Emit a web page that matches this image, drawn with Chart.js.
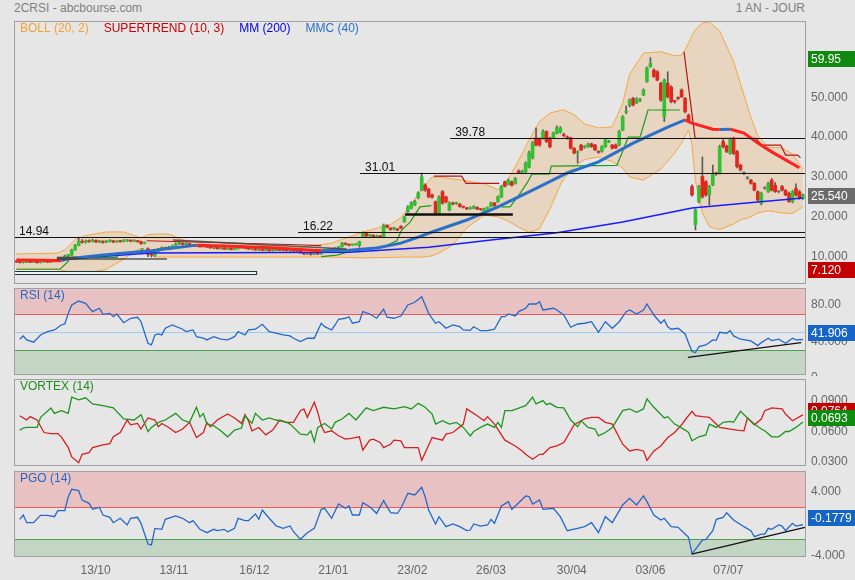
<!DOCTYPE html>
<html>
<head>
<meta charset="utf-8">
<title>2CRSI - abcbourse.com</title>
<script src="https://cdn.jsdelivr.net/npm/chart.js@4.4.0/dist/chart.umd.min.js"></script>
<style>
  body { margin: 0; background: #e6e6e6; font-family: "Liberation Sans", Arial, sans-serif; }
  #wrap { position: relative; width: 855px; height: 580px; overflow: hidden; background: #e6e6e6; }
  canvas { position: absolute; left: 0; }
  .head { position: absolute; top: 1px; font-size: 12px; line-height: 14px; color: #808080; }
</style>
</head>
<body>
<div id="wrap">
  <div class="head" style="left:14px">2CRSI - abcbourse.com</div>
  <div class="head" style="right:50px">1 AN - JOUR</div>
  <canvas id="price" width="855" height="286" style="top:0"></canvas>
  <canvas id="rsi" width="855" height="90" style="top:286px"></canvas>
  <canvas id="vortex" width="855" height="90" style="top:377px"></canvas>
  <canvas id="pgo" width="855" height="111" style="top:469px"></canvas>
</div>
<script>
// daily candles (bar 0 = first session shown)
const opens = [
  8.9, 8.7, 8.5, 8.6, 8.8, 8.6, 8.7, 8.5, 8.7, 8.8,
  8.6, 8.8, 8.9, 9.3, 9.6, 10.2, 10.4, 11.7, 12.8, 13.8,
  13.6, 14.0, 13.8, 14.1, 13.7, 13.9, 13.6, 13.9, 14.0, 13.7,
  13.9, 13.8, 14.0, 14.1, 13.9, 14.0, 13.8, 13.3, 12.0, 10.6,
  10.3, 11.3, 11.9, 12.3, 12.1, 12.4, 12.7, 13.2, 13.4, 13.1,
  13.3, 12.9, 12.6, 12.7, 12.5, 12.6, 12.4, 12.2, 12.3, 12.0,
  12.2, 11.9, 12.1, 11.8, 12.0, 12.2, 12.4, 12.1, 11.9, 12.0,
  11.7, 11.8, 11.6, 11.7, 11.5, 11.6, 11.8, 11.6, 11.7, 11.5,
  11.6, 11.4, 11.5, 11.0, 10.7, 10.8, 10.6, 10.9, 10.7, 11.2,
  11.7, 12.0, 11.8, 12.1, 12.5, 13.4, 13.1, 12.9, 13.0, 12.8,
  14.9, 15.9, 15.2, 15.4, 14.9, 15.2, 15.0, 17.9, 17.2, 16.8,
  17.0, 17.6, 18.8, 21.3, 22.2, 23.0, 24.7, 26.7, 28.0, 27.0,
  25.5, 23.8, 20.9, 26.3, 25.0, 21.7, 23.5, 23.4, 23.2, 22.6,
  22.2, 22.0, 22.1, 22.4, 22.0, 21.1, 22.0, 22.6, 23.5, 23.8,
  25.0, 28.8, 28.1, 28.8, 28.3, 31.5, 31.0, 31.3, 32.5, 34.8,
  39.8, 39.5, 39.8, 41.4, 39.8, 39.8, 41.0, 41.2, 40.6, 40.0,
  39.8, 37.2, 36.1, 38.0, 37.4, 37.6, 38.3, 38.0, 36.4, 36.4,
  37.6, 38.8, 38.0, 38.0, 38.0, 41.8, 46.2, 48.0, 49.7, 48.6,
  49.1, 50.6, 53.9, 57.7, 56.8, 56.4, 53.5, 45.1, 53.5, 52.6,
  49.0, 49.8, 51.8, 49.7, 45.5, 27.6, 18.0, 23.8, 30.1, 28.8,
  25.5, 28.0, 30.9, 30.9, 38.9, 37.8, 35.9, 39.7, 36.4, 33.0,
  30.9, 29.7, 29.2, 28.4, 26.3, 23.4, 27.2, 26.3, 29.2, 27.9,
  26.3, 27.6, 26.6, 25.9, 23.8, 27.1, 26.3, 24.6
];
const closes = [
  8.7, 8.5, 8.6, 8.8, 8.6, 8.7, 8.5, 8.7, 8.8, 8.6,
  8.8, 8.9, 9.3, 9.6, 10.2, 10.4, 11.7, 12.8, 13.8, 13.6,
  14.0, 13.8, 14.1, 13.7, 13.9, 13.6, 13.9, 14.0, 13.7, 13.9,
  13.8, 14.0, 14.1, 13.9, 14.0, 13.8, 13.3, 13.5, 10.6, 10.4,
  11.3, 11.9, 12.3, 12.1, 12.4, 12.7, 13.2, 13.4, 13.1, 13.3,
  12.9, 12.6, 12.7, 12.5, 12.6, 12.4, 12.2, 12.3, 12.0, 12.2,
  11.9, 12.1, 11.8, 12.0, 12.2, 12.4, 12.1, 11.9, 12.0, 11.7,
  11.8, 11.6, 11.7, 11.5, 11.6, 11.8, 11.6, 11.7, 11.5, 11.6,
  11.4, 11.5, 11.0, 10.7, 10.8, 10.6, 10.9, 10.7, 11.2, 11.7,
  12.0, 11.8, 12.1, 12.4, 13.4, 13.1, 12.9, 13.0, 13.1, 13.8,
  16.0, 15.2, 15.4, 14.9, 15.2, 15.0, 17.9, 17.4, 16.8, 17.2,
  16.7, 17.2, 20.0, 22.5, 23.5, 23.8, 26.0, 30.0, 26.7, 25.0,
  24.9, 20.9, 25.0, 23.4, 23.8, 23.5, 23.2, 23.5, 22.6, 22.4,
  22.0, 22.3, 22.6, 22.0, 21.8, 22.0, 22.4, 23.5, 22.8, 25.0,
  27.6, 27.7, 29.2, 27.9, 29.6, 31.1, 31.4, 33.5, 36.0, 38.5,
  38.0, 38.0, 41.4, 38.9, 37.6, 41.0, 42.3, 42.3, 40.4, 39.8,
  37.2, 36.0, 36.3, 36.8, 37.6, 38.3, 37.6, 36.8, 36.2, 37.6,
  39.3, 39.0, 37.2, 37.3, 41.4, 45.1, 46.5, 49.3, 48.0, 49.6,
  49.4, 51.8, 57.3, 58.5, 55.2, 54.3, 49.3, 54.3, 50.1, 48.9,
  48.9, 49.7, 50.1, 46.4, 43.9, 25.5, 21.7, 27.6, 25.0, 25.5,
  27.6, 30.9, 30.8, 37.6, 37.6, 36.4, 39.3, 35.9, 32.6, 31.8,
  30.9, 29.7, 28.4, 26.7, 24.2, 25.9, 27.2, 28.4, 26.7, 26.3,
  26.3, 26.7, 25.5, 23.8, 26.3, 25.5, 24.6, 25.5
];
const highs = [
  9.0, 8.8, 8.8, 8.9, 8.9, 8.9, 8.8, 8.8, 8.9, 8.9,
  9.0, 9.1, 9.4, 9.8, 10.4, 10.6, 11.9, 13.1, 14.9, 14.3,
  14.2, 14.2, 14.4, 14.2, 14.1, 14.0, 14.1, 14.2, 14.1, 14.0,
  14.1, 14.3, 14.3, 14.2, 14.2, 14.1, 13.9, 13.7, 12.2, 11.0,
  11.5, 12.1, 12.5, 12.4, 12.6, 12.9, 13.5, 13.6, 13.5, 13.5,
  13.4, 13.0, 12.9, 12.8, 12.8, 12.7, 12.5, 12.6, 12.4, 12.3,
  12.3, 12.2, 12.2, 12.1, 12.5, 12.8, 12.5, 12.2, 12.1, 12.1,
  12.0, 11.9, 11.9, 11.8, 11.8, 12.0, 11.9, 11.8, 11.8, 11.7,
  11.7, 11.6, 11.5, 11.1, 11.0, 10.9, 11.0, 11.0, 11.3, 11.8,
  12.1, 12.1, 12.3, 12.6, 13.6, 13.5, 13.2, 13.2, 13.3, 13.9,
  16.2, 16.0, 15.6, 15.5, 15.4, 15.3, 18.2, 18.0, 17.3, 17.4,
  17.1, 17.8, 20.2, 22.8, 23.8, 24.2, 26.3, 31.0, 28.3, 27.2,
  25.7, 24.0, 25.3, 26.6, 25.2, 23.8, 23.7, 23.7, 23.3, 22.7,
  22.4, 22.5, 22.8, 22.5, 22.1, 22.2, 22.5, 23.7, 23.6, 25.3,
  27.9, 29.0, 29.5, 29.0, 29.9, 31.8, 31.7, 33.8, 36.5, 38.9,
  42.3, 39.8, 41.8, 41.6, 40.0, 41.3, 42.8, 42.6, 41.0, 40.3,
  40.0, 37.4, 36.6, 38.2, 37.9, 38.5, 38.5, 38.2, 36.6, 37.9,
  39.6, 39.2, 38.2, 38.3, 41.7, 45.4, 47.8, 49.6, 50.0, 49.9,
  49.7, 52.1, 57.6, 59.95, 57.1, 56.7, 53.8, 54.6, 56.4, 52.9,
  49.3, 50.1, 52.1, 50.0, 45.8, 28.0, 22.0, 27.9, 35.0, 29.1,
  27.9, 33.0, 31.2, 38.0, 39.5, 38.0, 39.6, 40.0, 36.7, 33.2,
  31.3, 30.1, 29.4, 28.6, 26.5, 26.2, 27.5, 28.7, 29.6, 28.6,
  26.6, 27.9, 26.9, 26.2, 26.6, 28.3, 26.6, 25.8
];
const lows = [
  8.5, 8.4, 8.4, 8.5, 8.5, 8.5, 8.4, 8.4, 8.6, 8.5,
  8.5, 8.7, 8.8, 9.2, 9.5, 9.9, 10.3, 11.6, 12.7, 13.4,
  13.4, 13.6, 13.7, 13.5, 13.5, 13.4, 13.5, 13.7, 13.5, 13.6,
  13.6, 13.7, 13.8, 13.7, 13.8, 13.6, 13.1, 13.2, 10.0, 9.9,
  10.1, 11.2, 11.8, 11.9, 12.0, 12.3, 12.6, 13.0, 12.9, 13.0,
  12.8, 12.5, 12.5, 12.3, 12.4, 12.3, 12.1, 12.0, 11.9, 11.9,
  11.8, 11.8, 11.7, 11.7, 11.9, 12.1, 12.0, 11.8, 11.7, 11.6,
  11.6, 11.5, 11.5, 11.4, 11.4, 11.5, 11.5, 11.4, 11.4, 11.3,
  11.3, 11.2, 10.8, 10.5, 10.5, 10.4, 10.5, 10.5, 10.6, 11.1,
  11.6, 11.6, 11.7, 12.0, 12.4, 12.9, 12.7, 12.8, 12.9, 12.4,
  14.8, 15.0, 15.1, 14.8, 14.8, 14.9, 14.9, 17.2, 16.6, 16.7,
  16.5, 17.0, 18.6, 21.1, 22.0, 22.8, 24.5, 26.5, 26.4, 24.8,
  24.7, 20.5, 20.7, 23.2, 23.5, 21.5, 23.0, 23.1, 22.4, 22.2,
  21.8, 21.9, 22.0, 21.8, 21.6, 20.9, 21.9, 22.5, 22.6, 23.6,
  24.8, 27.5, 28.0, 27.7, 28.2, 30.9, 30.8, 31.1, 32.3, 34.5,
  37.8, 37.7, 39.5, 38.6, 37.3, 39.6, 40.8, 41.0, 40.1, 39.5,
  37.0, 35.8, 33.5, 36.6, 37.2, 37.4, 37.4, 36.6, 35.9, 36.2,
  37.4, 38.6, 37.0, 37.1, 37.8, 41.6, 45.9, 47.6, 47.8, 48.4,
  48.9, 50.4, 53.7, 57.5, 55.0, 54.1, 49.0, 43.9, 49.8, 48.6,
  48.5, 49.4, 49.9, 46.1, 43.6, 25.2, 16.7, 23.5, 24.7, 25.2,
  23.0, 27.8, 30.4, 30.7, 37.3, 36.1, 35.7, 35.6, 32.3, 31.5,
  30.6, 29.4, 28.2, 26.5, 24.0, 23.0, 26.9, 26.1, 26.5, 26.1,
  26.0, 26.5, 25.3, 23.6, 23.5, 25.2, 24.4, 24.4
];

// x axis labels and where they sit (bar index)
const dateTicks = [22.9, 45.5, 68.7, 91.5, 114.3, 137, 160.3, 183, 205.5];
const dateLabels = ['13/10', '13/11', '16/12', '21/01', '23/02', '26/03', '30/04', '03/06', '07/07'];

// bollinger (20, 2) read at these bars
const bandIdx = [0, 12, 14, 17, 20, 26, 31, 34, 36, 38,
  40, 44, 49, 56, 65, 73, 81, 91, 100, 108,
  111, 114, 117, 120, 122, 126, 130, 135, 139, 142,
  145, 148, 151, 154, 157, 158, 161, 164, 168, 172,
  175, 177, 181, 186, 190, 192, 194, 195, 196, 198,
  200, 203, 207, 209, 212, 214, 217, 221, 224, 227];
const bandUpper = [10.7, 10.9, 11.7, 14.3, 15.3, 16.2, 16.2, 15.3, 14.7, 15.5,
  15.7, 15.7, 13.9, 13.7, 13.2, 12.7, 12.2, 13.4, 16.2, 18.1,
  19.8, 23.2, 27.0, 30.0, 30.0, 29.5, 29.0, 28.3, 26.8, 29.5,
  34.2, 39.3, 43.9, 46.0, 46.7, 46.8, 45.6, 43.3, 42.3, 42.6,
  48.5, 55.8, 61.1, 61.4, 60.4, 60.6, 63.5, 65.5, 67.0, 68.6,
  68.9, 66.6, 59.0, 53.4, 44.9, 40.3, 37.5, 37.3, 35.8, 32.0];
const bandLower = [6.9, 6.9, 6.4, 6.0, 5.9, 6.8, 9.4, 11.3, 12.1, 11.0,
  9.9, 9.9, 9.9, 9.9, 9.9, 9.9, 9.9, 9.9, 9.7, 9.8,
  9.9, 9.9, 9.9, 10.2, 10.9, 13.0, 17.2, 20.4, 20.0, 18.9,
  17.4, 16.1, 17.0, 22.0, 28.0, 29.5, 32.6, 34.4, 35.0, 33.9,
  32.2, 30.0, 29.2, 32.0, 36.0, 38.5, 41.8, 38.0, 29.0, 21.0,
  17.5, 16.8, 18.2, 19.2, 20.0, 21.0, 21.5, 21.0, 20.8, 22.5];

// [bar, value]
const mm200 = [[15, 9.5], [39, 10.9], [96, 11.1], [119, 12.4], [137, 14.2], [156, 16.0],
  [175, 18.7], [195, 22.2], [214, 23.7], [227, 24.7]];
const mmc40 = [[0, 9.2], [8, 9.1], [13, 9.0], [15, 9.5], [25, 10.4], [39, 11.5], [52, 12.9],
  [60, 12.7], [72, 12.3], [88, 11.5], [96, 11.6], [104, 12.2], [111, 13.4], [116, 14.9],
  [120, 16.2], [130, 19.2], [139, 22.5], [149, 26.7], [159, 31.0], [168, 33.8], [178, 38.5],
  [188, 42.5], [193, 44.3], [195, 43.5], [201, 42.0], [203, 41.9], [206, 42.0], [210, 41.0],
  [214, 38.5], [218, 36.3], [222, 34.3], [226, 32.3]];
const superUp = [
  [[0, 6.85], [12.6, 6.85], [15, 8.8], [15.5, 9.85], [29, 9.85], [29.5, 11.0], [34.8, 11.0], [36.7, 12.1]],
  [[88, 10.0], [92.5, 10.4], [98, 11.7], [106, 12.5], [109.8, 14.0], [111.2, 16.7], [113.6, 18.6],
   [116.5, 22.5], [119.8, 22.8]],
  [[140, 22.5], [142.5, 22.5], [145.4, 25.9], [147.4, 28.5], [148.8, 30.7], [153.8, 30.7],
   [154.4, 32.7], [173.3, 32.9], [174.8, 36.0], [176.6, 40.0], [180, 40.0], [182.3, 46.8], [191.5, 46.8]]
];
const superDown = [
  [[37.6, 14.0], [81, 13.0], [88, 12.8]],
  [[120.5, 30.2], [128.5, 30.2], [129.8, 28.4], [139.4, 28.4]],
  [[192.7, 61.4], [195.9, 39.7], [213.4, 39.7], [215.1, 38.0], [220.6, 38.0], [222, 35.5],
   [225.5, 35.5], [226.3, 34.8]]
];

// drawn price levels and marks
const levels = [14.94, 16.22, 31.01, 39.78];
const levelFrom = [-0.66, 81.3, 99.2, 125.2];
const supportLine = [112.2, 143.3, 20.6];
const baseLine = [11.7, 43.5, 9.42];
const baseStub = [11.7, 17.5, 9.62];
const slopeLine = [45.2, 14.19, 95.4, 11.93];
const baseBox = [-0.66, 69.5, 5.66, 6.34];
const periodHigh = 59.95, periodLow = 7.12, lastPrice = 25.54;

// indicators [bar, value]
const rsi = [[1, 42.2], [2, 45.8], [3, 41.4], [5, 38.9], [7, 46.9], [9, 50.6], [11, 52.4], [13, 57.9],
  [14, 59], [15, 70.7], [16, 79.9], [18, 84.3], [20, 81.8], [22, 72.6], [24, 76.3], [25, 69.6],
  [27, 70.7], [28, 67], [29, 70], [31, 60.4], [33, 65.3], [35, 66.4], [36, 61.5], [38, 37.8],
  [39, 35.9], [40, 46.9], [41, 48], [42, 47], [43, 54.3], [45, 57.9], [48, 53.2], [49, 50.6],
  [51, 52.4], [52, 45], [54, 43.3], [55, 41.4], [57, 45], [59, 42.2], [61, 41.4], [63, 45],
  [64, 50.6], [66, 46.9], [67, 52.4], [69, 53.2], [71, 58.7], [73, 50.6], [75, 48.8], [77, 46.9],
  [79, 45.8], [80, 43.3], [82, 39.6], [84, 43.3], [86, 43.3], [88, 59.8], [89, 56], [91, 52.4],
  [92, 57.9], [93, 64.2], [95, 65.3], [96, 67], [97, 59.8], [99, 61.5], [100, 72.6], [102, 70],
  [104, 65.3], [106, 75.2], [107, 66.4], [109, 65.3], [111, 67.8], [113, 79.9], [115, 82.9],
  [117, 89], [118, 80], [119, 70.7], [121, 59.8], [122, 61.5], [124, 54.3], [126, 57.9], [128, 56],
  [129, 52.4], [131, 52], [132, 56], [134, 51.6], [136, 51.6], [138, 53.2], [140, 67], [141, 67],
  [142, 70], [144, 67.8], [145, 72.6], [147, 76.3], [148, 81], [150, 81], [151, 83.5], [152, 74.4],
  [155, 76.3], [156, 74.4], [158, 68.9], [160, 55.4], [162, 59], [164, 59.8], [166, 61.5],
  [168, 49.9], [170, 61.5], [172, 54.3], [174, 61.5], [176, 72.6], [177, 74.4], [179, 70],
  [181, 74.4], [182, 81], [184, 68.9], [186, 59.8], [187, 63.5], [188, 56], [189, 53.2], [191, 54.3],
  [193, 48], [195, 28.6], [196, 27.5], [197, 34.1], [199, 35.9], [201, 41.4], [202, 41], [203, 49.9],
  [205, 48.8], [206, 51.6], [207, 45.8], [209, 42.2], [212, 40.3], [214, 35.2], [215, 38.5],
  [217, 43.3], [218, 40.7], [220, 42.2], [222, 37.8], [224, 43.3], [225, 41.4], [227, 41.9]];
const rsiTrend = [[193.8, 22.3], [226.5, 38.4]];
const rsiLast = 41.906;

const viPlus = [[1, 0.0614], [2, 0.0634], [3, 0.064], [6, 0.064], [7, 0.0739], [10, 0.0832], [11, 0.0778],
  [13, 0.0805], [15, 0.0778], [16, 0.0937], [18, 0.0911], [20, 0.0931], [22, 0.0871], [25, 0.0854],
  [28, 0.0832], [31, 0.0723], [34, 0.0713], [36, 0.0765], [38, 0.06], [39, 0.064], [41, 0.0689],
  [43, 0.0713], [46, 0.0778], [48, 0.0713], [50, 0.069], [52, 0.0838], [53, 0.0743], [54, 0.0776],
  [55, 0.0673], [57, 0.0656], [59, 0.0607], [61, 0.0548], [63, 0.0614], [65, 0.0634], [66, 0.0755],
  [68, 0.068], [69, 0.0778], [71, 0.0713], [73, 0.0733], [75, 0.0713], [78, 0.069], [79, 0.0673],
  [82, 0.0574], [84, 0.0567], [85, 0.0607], [86, 0.0501], [87, 0.064], [89, 0.0679], [91, 0.0624],
  [92, 0.069], [94, 0.0723], [96, 0.0778], [98, 0.0713], [101, 0.0832], [103, 0.0805], [106, 0.0838],
  [109, 0.0822], [112, 0.0845], [114, 0.0822], [116, 0.0877], [118, 0.0838], [120, 0.0772],
  [121, 0.0673], [123, 0.0706], [125, 0.0673], [127, 0.069], [129, 0.064], [131, 0.0557], [132, 0.06],
  [134, 0.064], [136, 0.0673], [138, 0.064], [139, 0.069], [140, 0.064], [141, 0.0805], [143, 0.0805],
  [147, 0.0854], [149, 0.0937], [150, 0.0871], [152, 0.0904], [153, 0.0864], [154, 0.0877],
  [156, 0.0838], [158, 0.0832], [160, 0.0713], [162, 0.0647], [163, 0.0706], [165, 0.064],
  [167, 0.0624], [168, 0.0557], [170, 0.059], [172, 0.064], [175, 0.0805], [177, 0.0822],
  [179, 0.0788], [181, 0.0822], [182, 0.0921], [184, 0.0838], [187, 0.0733], [188, 0.0746],
  [190, 0.0673], [191, 0.0656], [193, 0.0614], [194, 0.059], [195, 0.0508], [197, 0.0548],
  [199, 0.0567], [200, 0.0673], [202, 0.064], [204, 0.069], [206, 0.07], [207, 0.069], [209, 0.0798],
  [211, 0.0733], [213, 0.0673], [215, 0.0624], [216, 0.0607], [218, 0.0548], [220, 0.0548],
  [222, 0.06], [223, 0.06], [225, 0.064], [227, 0.0693]];
const viMinus = [[1, 0.0755], [3, 0.0713], [4, 0.0746], [6, 0.0713], [8, 0.059], [10, 0.058], [12, 0.058],
  [13, 0.0548], [15, 0.0442], [16, 0.035], [18, 0.0293], [19, 0.0376], [21, 0.0392], [22, 0.0442],
  [25, 0.0468], [27, 0.0481], [28, 0.0548], [30, 0.059], [32, 0.0713], [33, 0.0666], [35, 0.0679],
  [36, 0.0624], [38, 0.0733], [40, 0.0713], [41, 0.0647], [42, 0.0679], [44, 0.064], [46, 0.059],
  [48, 0.0624], [50, 0.069], [52, 0.0541], [54, 0.059], [55, 0.0689], [56, 0.0647], [58, 0.0713],
  [61, 0.0772], [63, 0.0733], [65, 0.068], [66, 0.0765], [67, 0.0706], [68, 0.0607], [70, 0.064],
  [72, 0.0567], [74, 0.0614], [76, 0.0713], [78, 0.069], [80, 0.069], [82, 0.0805], [83, 0.0822],
  [84, 0.0739], [86, 0.0887], [87, 0.079], [88, 0.0656], [89, 0.059], [91, 0.0607], [93, 0.0558],
  [95, 0.0525], [97, 0.0535], [99, 0.0548], [100, 0.0416], [102, 0.0515], [103, 0.0525], [105, 0.0492],
  [106, 0.0442], [108, 0.0475], [109, 0.0515], [111, 0.0508], [112, 0.0442], [114, 0.0442],
  [116, 0.0442], [117, 0.0317], [118, 0.0392], [120, 0.0541], [123, 0.0515], [124, 0.0574],
  [126, 0.059], [129, 0.0673], [130, 0.0822], [133, 0.0755], [135, 0.0706], [136, 0.0746],
  [138, 0.0673], [141, 0.0515], [144, 0.0458], [146, 0.0409], [147, 0.0376], [149, 0.0327],
  [151, 0.0376], [152, 0.0376], [154, 0.0442], [156, 0.0458], [158, 0.0492], [161, 0.0666],
  [163, 0.0706], [164, 0.0723], [166, 0.0739], [168, 0.0739], [170, 0.069], [172, 0.0673],
  [175, 0.0475], [177, 0.0409], [179, 0.0425], [181, 0.0409], [182, 0.0317], [184, 0.0409],
  [186, 0.0458], [188, 0.0541], [190, 0.059], [192, 0.0666], [193, 0.0713], [195, 0.0798],
  [196, 0.0755], [198, 0.0746], [200, 0.0739], [202, 0.0673], [203, 0.064], [206, 0.0624],
  [208, 0.0614], [210, 0.0607], [211, 0.0733], [213, 0.0666], [215, 0.0722], [216, 0.0805],
  [218, 0.0832], [221, 0.0822], [222, 0.0772], [224, 0.0706], [227, 0.0764]];
const viPlusLast = 0.0693, viMinusLast = 0.0764;

const pgo = [[1, 0.5], [2, 1.04], [3, 0.08], [5, 0.08], [7, 1.0], [9, 1.0], [11, 0.83], [12, 1.58], [14, 1.58],
  [15, 3.33], [16, 4.25], [18, 4.08], [19, 2.9], [21, 2.5], [22, 1.75], [24, 2.0], [25, 1.04], [27, 0.75],
  [28, 0.08], [30, 0.63], [32, -0.21], [33, 0.63], [35, 0.75], [36, 0], [38, -2.59], [39, -2.71],
  [40, -0.63], [42, -0.75], [43, 0.5], [46, 0.92], [48, 0.63], [50, 0.08], [51, 0.33], [53, -0.75],
  [55, -1.17], [57, -0.75], [58, -0.92], [60, -0.75], [61, -1.05], [63, -0.63], [64, 0.63], [66, 0.33],
  [67, 0.33], [69, 1.17], [70, 0.5], [71, 1.67], [73, 0.63], [75, -0.33], [77, -0.63], [79, -0.33],
  [80, -1.05], [82, -2.0], [84, -1.17], [86, -0.63], [88, 1.75], [89, 1.88], [91, 0.63], [93, 2.41],
  [95, 1.88], [96, 2.16], [97, 1.04], [99, 1.04], [100, 2.58], [102, 2.08], [104, 1.25], [106, 2.83],
  [108, 1.33], [110, 1.25], [111, 1.88], [113, 3.75], [115, 3.54], [117, 4.5], [118, 3.33], [119, 1.67],
  [121, -0.08], [122, 0.83], [124, -0.42], [126, -0.08], [128, -0.42], [130, -0.92], [131, -0.84],
  [132, -0.08], [134, -0.34], [136, -0.21], [137, 0.5], [138, 0], [140, 2.17], [142, 2.71], [143, 1.75],
  [145, 2.58], [147, 3.42], [148, 3.33], [149, 2.41], [151, 2.91], [152, 1.75], [155, 1.88], [157, 0.83],
  [159, -0.92], [162, -0.63], [164, -0.42], [166, 0.08], [168, -1.17], [170, 0.83], [172, 0.08],
  [175, 2.29], [177, 3.12], [179, 2.29], [181, 3.42], [182, 2.71], [184, 1.04], [186, 0.41], [187, 0.63],
  [189, -0.42], [191, -0.5], [193, -1.33], [194, -1.75], [195, -3.75], [196, -3.25], [198, -2.09],
  [199, -2.0], [201, -0.92], [202, 0.5], [204, 0.75], [205, 1.33], [207, 0.41], [210, -0.42],
  [212, -0.92], [213, -1.67], [215, -1.34], [216, -1.34], [217, -0.63], [218, -0.75], [220, -0.21],
  [221, -0.34], [222, -0.92], [224, 0], [225, -0.34], [227, -0.18]];
const pgoTrend = [[194.9, -3.84], [227.6, -0.5]];
const pgoLast = -0.1779;

// ---------------------------------------------------------------
const FONT = '"Liberation Sans", Arial, sans-serif';
const X_MIN = -0.66, X_MAX = 227.9;

// zones, guide lines, frame, titles, price boxes
const panelPlugin = {
  id: 'panel',
  beforeDatasetsDraw(chart, args, o) {
    const { ctx, chartArea: a } = chart, y = chart.scales.y;
    ctx.save();
    ctx.beginPath(); ctx.rect(a.left, a.top, a.width, a.height); ctx.clip();
    (o.zones || []).forEach(([lo, hi, c]) => {
      const t = y.getPixelForValue(hi), b = y.getPixelForValue(lo);
      ctx.fillStyle = c;
      ctx.fillRect(a.left, t, a.width, b - t);
    });
    (o.guides || []).forEach(([v, c]) => {
      const py = Math.round(y.getPixelForValue(v)) + 0.5;
      ctx.strokeStyle = c; ctx.lineWidth = 1;
      ctx.beginPath(); ctx.moveTo(a.left, py); ctx.lineTo(a.right, py); ctx.stroke();
    });
    ctx.restore();
  },
  afterDatasetsDraw(chart, args, o) {
    const { ctx, chartArea: a } = chart, { x, y } = chart.scales;
    ctx.save();
    ctx.beginPath(); ctx.rect(a.left, a.top, a.width, a.height); ctx.clip();
    (o.rects || []).forEach(r => {
      const l = Math.max(a.left, x.getPixelForValue(r.x0)), rr = x.getPixelForValue(r.x1);
      const t = Math.round(y.getPixelForValue(r.y1)), b = Math.round(y.getPixelForValue(r.y0));
      ctx.fillStyle = r.fill; ctx.fillRect(l, t, rr - l, b - t);
      ctx.strokeStyle = r.color; ctx.lineWidth = 1;
      ctx.strokeRect(l + 0.5, t + 0.5, rr - l - 1, b - t);
    });
    (o.segs || []).forEach(s => {
      ctx.strokeStyle = s.color; ctx.lineWidth = s.width;
      ctx.beginPath();
      ctx.moveTo(x.getPixelForValue(s.x0), y.getPixelForValue(s.y0));
      ctx.lineTo(x.getPixelForValue(s.x1), y.getPixelForValue(s.y1));
      ctx.stroke();
    });
    ctx.font = '12px ' + FONT; ctx.textAlign = 'left'; ctx.textBaseline = 'alphabetic';
    (o.levels || []).forEach(l => {
      const px = Math.max(a.left, x.getPixelForValue(l.from));
      const py = Math.round(y.getPixelForValue(l.v)) + 0.5;
      ctx.strokeStyle = '#111'; ctx.lineWidth = 1;
      ctx.beginPath(); ctx.moveTo(px, py); ctx.lineTo(a.right, py); ctx.stroke();
      ctx.fillStyle = '#111';
      ctx.fillText(l.v.toFixed(2), px + 5, py - 2.5);
    });
    ctx.restore();
  },
  afterDraw(chart, args, o) {
    const { ctx, chartArea: a } = chart, y = chart.scales.y;
    ctx.save();
    ctx.strokeStyle = '#a0a0a0'; ctx.lineWidth = 1;
    ctx.strokeRect(a.left + 0.5, a.top + 0.5, a.width - 1, a.height - 1);
    ctx.font = '12px ' + FONT; ctx.textAlign = 'left'; ctx.textBaseline = 'middle';
    let tx = a.left + 6;
    (o.titles || []).forEach(([t, c]) => {
      ctx.fillStyle = c;
      ctx.fillText(t, tx, a.top + 8);
      tx += ctx.measureText(t).width + 15;
    });
    (o.boxes || []).forEach(b => {
      const py = Math.round(y.getPixelForValue(b.v) + b.dy);
      ctx.fillStyle = b.bg;
      ctx.fillRect(a.right + 2, py - 8, chart.width - a.right - 2, 16);
      ctx.fillStyle = '#fff';
      ctx.fillText(b.text, a.right + 5, py + 0.5);
    });
    ctx.restore();
  }
};
Chart.register(panelPlugin);

const pts = pairs => pairs.map(p => ({ x: p[0], y: p[1] }));
const line = (pairs, color, width, order) => ({
  type: 'line', data: pts(pairs), borderColor: color, borderWidth: width,
  pointRadius: 0, fill: false, tension: 0, order: order
});

function xAxis(visible) {
  return {
    type: 'linear', min: X_MIN, max: X_MAX, offset: false, display: visible,
    grid: { display: false, drawTicks: false }, border: { display: false },
    ticks: {
      color: '#666', font: { size: 12, family: FONT }, padding: 6, maxRotation: 0, autoSkip: false,
      callback: v => dateLabels[dateTicks.indexOf(v)]
    },
    afterBuildTicks: s => { s.ticks = dateTicks.map(v => ({ value: v })); },
    afterFit: s => { if (visible) s.height = 23; s.paddingLeft = 0; s.paddingRight = 0; }
  };
}
function yAxis(min, max, ticks, fmt) {
  return {
    position: 'right', min: min, max: max,
    grid: { display: false, drawTicks: false }, border: { display: false },
    ticks: { color: '#666', font: { size: 12, family: FONT }, padding: 5, autoSkip: false, callback: v => fmt(v) },
    afterBuildTicks: s => { s.ticks = ticks.map(v => ({ value: v })); },
    afterFit: s => { s.width = 49; s.paddingTop = 0; s.paddingBottom = 0; }
  };
}
function makeChart(id, padding, y, datasets, panel, showDates) {
  return new Chart(document.getElementById(id), {
    type: 'line',
    data: { datasets: datasets },
    options: {
      responsive: false, animation: false, events: [],
      layout: { padding: padding, autoPadding: false },
      plugins: { legend: { display: false }, tooltip: { enabled: false }, panel: panel },
      scales: { x: xAxis(showDates), y: y }
    }
  });
}

// price panel
const GREEN = '#2fc42f', RED = '#e3261c';
const priceSets = [
  { type: 'line', data: bandIdx.map((b, k) => ({ x: b, y: bandUpper[k] })), borderColor: '#f4a640',
    borderWidth: 1, pointRadius: 0, tension: 0, fill: '+1', backgroundColor: 'rgba(240,160,70,0.24)', order: 10 },
  { type: 'line', data: bandIdx.map((b, k) => ({ x: b, y: bandLower[k] })), borderColor: '#f4a640',
    borderWidth: 1, pointRadius: 0, tension: 0, fill: false, order: 10 },
  { type: 'bar', data: highs.map((h, i) => ({ x: i, y: [lows[i], h] })), backgroundColor: '#5a5a5a',
    barThickness: 1, grouped: false, order: 8 },
  { type: 'bar', data: opens.map((o, i) => ({ x: i, y: [o, closes[i]] })),
    backgroundColor: c => closes[c.dataIndex] > opens[c.dataIndex] ? GREEN
      : closes[c.dataIndex] < opens[c.dataIndex] ? RED : '#777',
    barThickness: 3, minBarLength: 1, grouped: false, order: 7 }
];
superUp.forEach(seg => priceSets.push(line(seg, '#1e9a1e', 1.2, 5)));
superDown.forEach(seg => priceSets.push(line(seg, '#b81414', 1.2, 5)));
priceSets.push(line(mm200, '#1a1aff', 1.5, 4));
priceSets.push(Object.assign(line(mmc40, '#2a70c8', 3, 3), {
  segment: { borderColor: c => c.p1.parsed.y < c.p0.parsed.y ? '#ff2020' : '#2a70c8' }
}));

makeChart('price', { left: 14, right: 0, top: 21, bottom: 2 },
  yAxis(3.15, 69.13, [10, 20, 30, 40, 50, 60], v => v.toFixed(3)),
  priceSets,
  {
    titles: [['BOLL (20, 2)', '#f5a033'], ['SUPERTREND (10, 3)', '#c80000'], ['MM (200)', '#0000ee'], ['MMC (40)', '#2a70c8']],
    levels: levels.map((v, k) => ({ v: v, from: levelFrom[k] })),
    rects: [{ x0: baseBox[0], x1: baseBox[1], y0: baseBox[2], y1: baseBox[3], fill: '#eef3f3', color: '#1c3434' }],
    segs: [
      { x0: supportLine[0], x1: supportLine[1], y0: supportLine[2], y1: supportLine[2], width: 2.5, color: '#111' },
      { x0: baseLine[0], x1: baseLine[1], y0: baseLine[2], y1: baseLine[2], width: 1, color: '#111' },
      { x0: baseStub[0], x1: baseStub[1], y0: baseStub[2], y1: baseStub[2], width: 3, color: '#4a4a4a' },
      { x0: slopeLine[0], y0: slopeLine[1], x1: slopeLine[2], y1: slopeLine[3], width: 1.5, color: 'rgba(70,70,70,0.85)' }
    ],
    boxes: [
      { v: periodHigh, text: periodHigh.toFixed(2), bg: '#0f8a0f', dy: 1.5 },
      { v: lastPrice, text: lastPrice.toFixed(3), bg: '#6b6b6b', dy: 1.5 },
      { v: periodLow, text: periodLow.toFixed(3), bg: '#c40000', dy: 1.5 }
    ]
  }, false);

// RSI panel
makeChart('rsi', { left: 14, right: 0, top: 2, bottom: 1 },
  yAxis(2.78, 98.65, [0, 40, 80], v => v === 80 ? '80.00' : v === 40 ? '40.000' : '0'),
  [line(rsi, '#2468c8', 1.3, 2), line(rsiTrend, '#111', 1.3, 1)],
  {
    zones: [[70, 100, '#e8c2c2'], [0, 30, '#c3d6c3']],
    guides: [[70, '#ee5a5a'], [50, '#9fcdf2'], [30, '#4fa04f']],
    titles: [['RSI (14)', '#2468c8']],
    boxes: [{ v: rsiLast, text: rsiLast.toFixed(3), bg: '#1565c8', dy: -6.2 }]
  }, false);

// Vortex panel
makeChart('vortex', { left: 14, right: 0, top: 2, bottom: 1 },
  yAxis(0.0261, 0.1116, [0.03, 0.06, 0.09], v => v.toFixed(4)),
  [line(viMinus, '#d42020', 1.3, 2), line(viPlus, '#1e961e', 1.3, 1)],
  {
    titles: [['VORTEX (14)', '#1e8c1e']],
    boxes: [
      { v: viMinusLast, text: viMinusLast.toFixed(4), bg: '#c40000', dy: -4.3 },
      { v: viPlusLast, text: viPlusLast.toFixed(4), bg: '#0e8c0e', dy: -3.7 }
    ]
  }, false);

// PGO panel
makeChart('pgo', { left: 14, right: 0, top: 2, bottom: 0 },
  yAxis(-4.21, 6.54, [-4, 4], v => v.toFixed(3)),
  [line(pgo, '#2468c8', 1.3, 2), line(pgoTrend, '#111', 1.3, 1)],
  {
    zones: [[2, 10, '#e8c2c2'], [-10, -2, '#c3d6c3']],
    guides: [[2, '#ee5a5a'], [-2, '#4fa04f']],
    titles: [['PGO (14)', '#2468c8']],
    boxes: [{ v: pgoLast, text: pgoLast.toFixed(4), bg: '#1565c8', dy: -6.4 }]
  }, true);
</script>
</body>
</html>
